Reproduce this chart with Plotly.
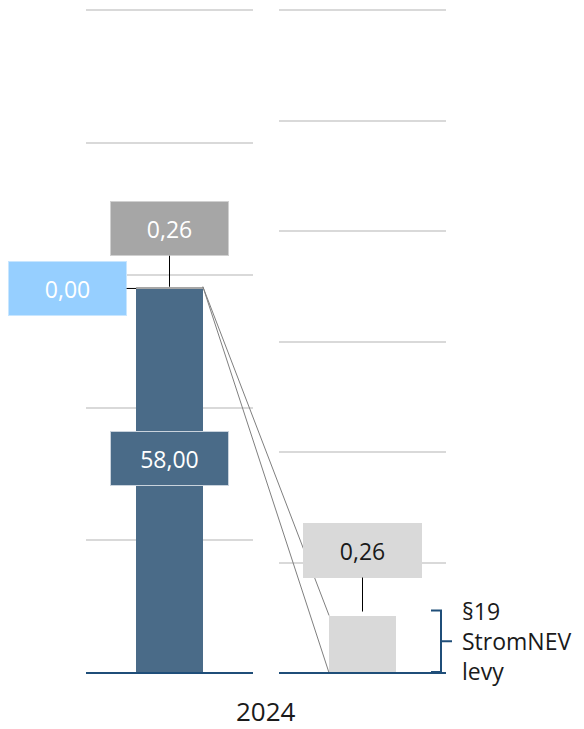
import plotly.graph_objects as go

# ---------------- data ----------------
year = "2024"
base_value = [58.00]          # left bar, main (dark blue)
adj_value = [0.00]            # left bar, light-blue label
levy_value = [0.26]           # §19 StromNEV levy (on left bar top and right panel)
left_ticks = [0, 20, 40, 60, 80, 100]
right_ticks = [0, 0.5, 1.0, 1.5, 2.0, 2.5, 3.0]
levy_text = "§19<br>StromNEV<br>levy"

def fmt(v):
    return f"{v:,.2f}".replace(",", "X").replace(".", ",").replace("X", ".")

# ---------------- layout geometry ----------------
W, H = 584, 729
PAD = 3  # extra pixels above top gridline so it is drawn
Y_BOT_PX, Y_TOP_PX = 673, 10
Y_DOM = [(H - Y_BOT_PX) / H, (H - Y_TOP_PX + PAD) / H]
XL_DOM = [86 / W, 253 / W]
XR_DOM = [279 / W, 446 / W]
L_MAX, R_MAX = left_ticks[-1], right_ticks[-1]
EXT = (Y_BOT_PX - Y_TOP_PX + PAD) / (Y_BOT_PX - Y_TOP_PX)
BAR_W = 0.4

C_BASE = "#4A6B88"
C_ADJ = "#96CFFF"
C_LEVY_L = "#A6A6A6"
C_LEVY_R = "#D9D9D9"
C_GRID = "#D9D9D9"
C_AXIS = "#1F4E79"
FONT = "Open Sans"

def xp(dom, x):
    return dom[0] + (x + 0.5) * (dom[1] - dom[0])

def yp(v, vmax):
    return Y_DOM[0] + v / (vmax * EXT) * (Y_DOM[1] - Y_DOM[0])

fig = go.Figure()
fig.add_trace(go.Bar(x=[0], y=base_value, marker=dict(color=C_BASE, line_width=0),
                     width=BAR_W, xaxis="x", yaxis="y", hoverinfo="skip"))
fig.add_trace(go.Bar(x=[0], y=adj_value, marker=dict(color=C_ADJ, line_width=0),
                     width=BAR_W, xaxis="x", yaxis="y", hoverinfo="skip"))
fig.add_trace(go.Bar(x=[0], y=levy_value, marker=dict(color=C_LEVY_L, line_width=0),
                     width=BAR_W, xaxis="x", yaxis="y", hoverinfo="skip"))
fig.add_trace(go.Bar(x=[0], y=levy_value, marker=dict(color=C_LEVY_R, line_width=0),
                     width=BAR_W, xaxis="x2", yaxis="y2", hoverinfo="skip"))

total_left = base_value[0] + adj_value[0] + levy_value[0]

shapes = []
# connector lines from left bar top to right bar
x_from = xp(XL_DOM, BAR_W / 2)
y_from = yp(total_left, L_MAX)
x_to = xp(XR_DOM, -BAR_W / 2)
for yv in [0, levy_value[0]]:
    shapes.append(dict(type="line", xref="paper", yref="paper",
                       x0=x_from, y0=y_from, x1=x_to, y1=yp(yv, R_MAX),
                       line=dict(color="#7F7F7F", width=1), layer="above"))

# baselines
for dom in (XL_DOM, XR_DOM):
    shapes.append(dict(type="line", xref="paper", yref="paper",
                       x0=dom[0], x1=dom[1], y0=Y_DOM[0], y1=Y_DOM[0],
                       line=dict(color=C_AXIS, width=2), layer="above"))

# bracket
bx = 441 / W
bl = 431 / W
br = 452 / W
b_top = yp(levy_value[0], R_MAX) + 5 / H
b_bot = yp(0, R_MAX) + 1 / H
b_mid = (b_top + b_bot) / 2
path = (f"M {bl},{b_top} L {bx},{b_top} L {bx},{b_bot} L {bl},{b_bot} "
        f"M {bx},{b_mid} L {br},{b_mid}")
shapes.append(dict(type="path", xref="paper", yref="paper", path=path,
                   line=dict(color=C_AXIS, width=2), layer="above"))

box = dict(width=115, height=51, borderpad=1, borderwidth=1)
annotations = [
    dict(x=0, y=total_left, xref="x", yref="y", text=fmt(levy_value[0]),
         showarrow=True, arrowhead=0, arrowwidth=1, arrowcolor="#000000",
         ax=0, ay=-58, bgcolor=C_LEVY_L, bordercolor="#D0D0D0",
         font=dict(family=FONT, size=23, color="#FFFFFF"), **box),
    dict(x=-BAR_W / 2, y=base_value[0], xref="x", yref="y", text=fmt(adj_value[0]),
         showarrow=True, arrowhead=0, arrowwidth=1, arrowcolor="#000000",
         ax=-68.5, ay=0, bgcolor=C_ADJ, bordercolor="#C8E6FF",
         font=dict(family=FONT, size=23, color="#FFFFFF"), **box),
    dict(x=0, y=base_value[0] * 0.558, xref="x", yref="y", text=fmt(base_value[0]),
         showarrow=False, bgcolor=C_BASE, bordercolor="#C9D3DD",
         font=dict(family=FONT, size=23, color="#FFFFFF"), **box),
    dict(x=0, y=levy_value[0], xref="x2", yref="y2", text=fmt(levy_value[0]),
         showarrow=True, arrowhead=0, arrowwidth=1, arrowcolor="#000000",
         ax=0, ay=-65, standoff=4, bgcolor=C_LEVY_R, bordercolor=C_LEVY_R,
         font=dict(family=FONT, size=23, color="#1A1A1A"), **box),
    dict(x=460 / W, y=b_mid, xref="paper", yref="paper", text=levy_text,
         showarrow=False, xanchor="left", yanchor="middle", align="left",
         font=dict(family=FONT, size=23, color="#1A1A1A")),
    dict(x=(XL_DOM[0] + XR_DOM[1]) / 2, y=(H - 711) / H, xref="paper", yref="paper",
         text=year, showarrow=False, xanchor="center", yanchor="middle",
         font=dict(family=FONT, size=26, color="#1A1A1A")),
]

axis_common = dict(showticklabels=False, ticks="", zeroline=False, showline=False)
fig.update_layout(
    width=W, height=H, margin=dict(l=0, r=0, t=0, b=0),
    paper_bgcolor="white", plot_bgcolor="white",
    barmode="stack", showlegend=False,
    xaxis=dict(domain=XL_DOM, range=[-0.5, 0.5], showgrid=False, anchor="y", **axis_common),
    yaxis=dict(domain=Y_DOM, range=[0, L_MAX * EXT], tickvals=left_ticks, showgrid=True,
               gridcolor=C_GRID, gridwidth=2, anchor="x", **axis_common),
    xaxis2=dict(domain=XR_DOM, range=[-0.5, 0.5], showgrid=False, anchor="y2", **axis_common),
    yaxis2=dict(domain=Y_DOM, range=[0, R_MAX * EXT], tickvals=right_ticks, showgrid=True,
                gridcolor=C_GRID, gridwidth=2, anchor="x2", **axis_common),
    shapes=shapes, annotations=annotations,
)

fig.write_html("out.html", config={"displayModeBar": False},
               post_script="document.body.style.margin='0';")
